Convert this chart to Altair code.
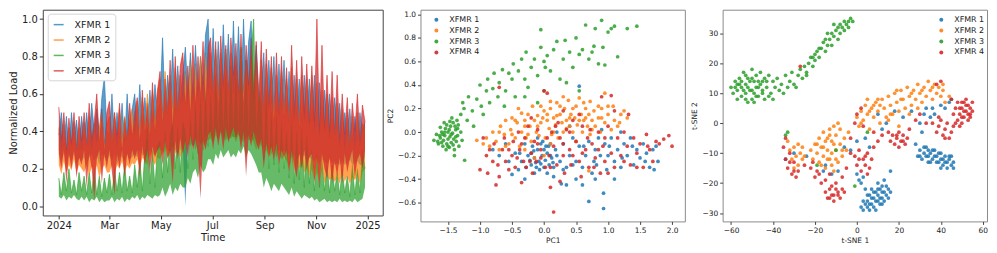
import altair as alt
import pandas as pd

names = ["XFMR 1", "XFMR 2", "XFMR 3", "XFMR 4"]
palette = ["#1f77b4", "#ff7f0e", "#2ca02c", "#d62728"]

# ---- Panel 1: normalized load, high / low envelope every 3 days from 2024-01-01 ----
start_date = "2024-01-01"
step_days = 3
hi_xfmr1 = [0.38,0.5,0.32,0.48,0.3,0.5,0.35,0.46,0.3,0.48,
            0.35,0.5,0.33,0.55,0.4,0.52,0.38,0.58,0.69,0.4,
            0.38,0.6,0.35,0.5,0.36,0.55,0.34,0.6,0.38,0.52,
            0.6,0.4,0.65,0.42,0.58,0.45,0.62,0.45,0.65,0.5,
            0.55,0.9,0.5,0.7,0.55,0.84,0.5,0.75,0.55,0.7,
            0.85,0.6,0.82,0.6,0.86,0.62,0.8,0.65,0.92,1.0,
            0.62,0.95,0.6,0.88,0.62,0.97,0.65,0.92,0.6,0.99,
            0.62,0.96,0.6,1.0,0.62,0.88,0.99,0.6,0.86,0.62,
            0.6,0.82,0.5,0.78,0.55,0.8,0.5,0.76,0.52,0.78,
            0.5,0.72,0.45,0.7,0.48,0.68,0.45,0.7,0.45,0.68,
            0.45,0.7,0.42,0.66,0.45,0.62,0.42,0.6,0.4,0.58,
            0.4,0.55,0.36,0.5,0.38,0.52,0.35,0.48,0.36,0.5,
            0.4,0.45]
lo_xfmr1 = [0.3,0.24,0.28,0.22,0.27,0.24,0.28,0.22,0.26,0.24,
            0.26,0.22,0.26,0.28,0.24,0.27,0.22,0.28,0.26,0.24,
            0.27,0.24,0.28,0.22,0.27,0.26,0.24,0.28,0.25,0.26,
            0.28,0.26,0.3,0.27,0.28,0.26,0.3,0.28,0.27,0.3,
            0.3,0.29,0.32,0.3,0.29,0.32,0.3,0.28,0.3,0.32,
            0.0,0.32,0.35,0.32,0.34,0.36,0.33,0.35,0.38,0.35,
            0.38,0.36,0.4,0.37,0.42,0.38,0.36,0.4,0.38,0.37,
            0.37,0.4,0.35,0.38,0.36,0.4,0.37,0.35,0.38,0.36,
            0.34,0.31,0.32,0.3,0.31,0.32,0.28,0.3,0.29,0.3,
            0.28,0.28,0.26,0.27,0.25,0.28,0.26,0.27,0.24,0.26,
            0.25,0.24,0.26,0.22,0.25,0.24,0.22,0.25,0.23,0.22,
            0.23,0.22,0.24,0.22,0.23,0.25,0.22,0.23,0.24,0.22,
            0.22,0.26]
hi_xfmr2 = [0.42,0.3,0.44,0.28,0.42,0.32,0.45,0.3,0.42,0.3,
            0.45,0.32,0.48,0.3,0.44,0.34,0.42,0.5,0.32,0.44,
            0.48,0.34,0.5,0.32,0.52,0.35,0.48,0.36,0.46,0.52,
            0.38,0.56,0.4,0.58,0.42,0.6,0.4,0.62,0.45,0.6,
            0.68,0.48,0.72,0.5,0.7,0.52,0.74,0.5,0.7,0.55,
            0.72,0.55,0.78,0.55,0.76,0.58,0.8,0.56,0.82,0.6,
            0.82,0.6,0.84,0.58,0.82,0.62,0.84,0.6,0.82,0.6,
            0.8,0.58,0.84,0.6,0.78,0.62,0.8,0.56,0.78,0.55,
            0.78,0.5,0.76,0.52,0.74,0.5,0.7,0.48,0.72,0.5,
            0.68,0.45,0.74,0.46,0.68,0.44,0.7,0.45,0.68,0.42,
            0.7,0.4,0.66,0.38,0.62,0.4,0.6,0.36,0.58,0.38,
            0.55,0.32,0.52,0.3,0.5,0.32,0.48,0.3,0.5,0.32,
            0.44,0.42]
lo_xfmr2 = [0.22,0.17,0.24,0.18,0.22,0.19,0.25,0.18,0.22,0.2,
            0.18,0.22,0.16,0.21,0.18,0.22,0.15,0.2,0.22,0.18,
            0.18,0.22,0.17,0.22,0.2,0.24,0.18,0.22,0.2,0.23,
            0.22,0.25,0.2,0.26,0.24,0.22,0.28,0.24,0.22,0.26,
            0.25,0.28,0.3,0.26,0.28,0.32,0.28,0.3,0.26,0.3,
            0.3,0.34,0.32,0.36,0.3,0.34,0.36,0.32,0.34,0.36,
            0.36,0.34,0.38,0.35,0.4,0.36,0.35,0.38,0.36,0.38,
            0.34,0.38,0.36,0.34,0.38,0.35,0.36,0.34,0.3,0.34,
            0.32,0.28,0.3,0.26,0.28,0.3,0.26,0.28,0.25,0.26,
            0.24,0.2,0.26,0.18,0.24,0.2,0.22,0.18,0.2,0.16,
            0.2,0.14,0.18,0.13,0.2,0.12,0.16,0.14,0.15,0.13,
            0.15,0.12,0.18,0.13,0.16,0.12,0.15,0.14,0.16,0.12,
            0.18,0.2]
hi_xfmr3 = [0.15,0.06,0.18,0.08,0.2,0.07,0.14,0.06,0.18,0.08,
            0.16,0.06,0.18,0.07,0.2,0.06,0.16,0.05,0.15,0.07,
            0.17,0.06,0.2,0.08,0.18,0.07,0.22,0.08,0.16,0.07,
            0.22,0.1,0.25,0.08,0.28,0.42,0.12,0.3,0.1,0.32,
            0.35,0.15,0.4,0.18,0.38,0.45,0.2,0.42,0.18,0.45,
            0.4,0.2,0.48,0.25,0.55,0.28,0.58,0.3,0.62,0.32,
            0.6,0.35,0.7,0.38,0.72,0.4,0.7,0.36,0.75,0.4,
            0.75,0.38,0.85,0.4,0.78,0.38,0.8,1.0,0.4,0.6,
            0.55,0.25,0.62,0.2,0.5,0.22,0.48,0.18,0.45,0.2,
            0.4,0.15,0.45,0.12,0.4,0.14,0.42,0.1,0.38,0.12,
            0.3,0.08,0.28,0.1,0.25,0.08,0.22,0.07,0.22,0.08,
            0.18,0.06,0.2,0.07,0.16,0.05,0.22,0.06,0.2,0.07,
            0.3,0.2]
lo_xfmr3 = [0.05,0.04,0.06,0.03,0.05,0.04,0.06,0.04,0.03,0.05,
            0.03,0.05,0.02,0.04,0.03,0.05,0.02,0.04,0.02,0.03,
            0.03,0.05,0.02,0.04,0.03,0.05,0.02,0.04,0.03,0.05,
            0.04,0.06,0.03,0.05,0.04,0.06,0.05,0.04,0.06,0.05,
            0.06,0.1,0.05,0.08,0.12,0.06,0.1,0.08,0.12,0.1,
            0.1,0.15,0.12,0.18,0.2,0.15,0.22,0.18,0.2,0.25,
            0.25,0.22,0.28,0.25,0.3,0.26,0.28,0.3,0.26,0.28,
            0.26,0.3,0.28,0.32,0.26,0.3,0.28,0.25,0.22,0.18,
            0.18,0.1,0.15,0.12,0.08,0.12,0.1,0.08,0.12,0.1,
            0.08,0.06,0.1,0.05,0.08,0.06,0.04,0.06,0.05,0.04,
            0.05,0.03,0.04,0.02,0.03,0.04,0.02,0.03,0.02,0.03,
            0.02,0.04,0.02,0.03,0.02,0.03,0.02,0.04,0.02,0.03,
            0.04,0.1]
hi_xfmr4 = [0.53,0.36,0.5,0.3,0.47,0.34,0.5,0.3,0.48,0.35,
            0.5,0.32,0.55,0.36,0.45,0.6,0.35,0.52,0.3,0.5,
            0.56,0.34,0.5,0.38,0.55,0.3,0.47,0.36,0.55,0.38,
            0.5,0.58,0.35,0.62,0.4,0.55,0.38,0.66,0.4,0.62,
            0.72,0.45,0.68,0.5,0.78,0.42,0.8,0.5,0.75,0.82,
            0.55,0.75,0.5,0.86,0.55,0.8,0.6,0.88,0.55,0.85,
            0.9,0.6,0.88,0.55,0.91,0.65,0.86,0.6,0.9,0.7,
            0.87,0.6,0.92,0.55,0.86,0.65,0.9,0.6,0.88,0.55,
            0.88,0.5,0.84,0.55,0.8,0.45,0.82,0.5,0.8,0.48,
            0.74,0.45,0.86,0.5,0.78,0.42,0.8,0.5,0.76,0.45,
            0.75,0.45,1.0,0.4,0.86,0.42,0.7,0.4,0.72,0.38,
            0.7,0.35,0.6,0.38,0.58,0.32,0.55,0.4,0.6,0.35,
            0.54,0.45]
lo_xfmr4 = [0.28,0.2,0.3,0.12,0.28,0.2,0.3,0.15,0.26,0.22,
            0.3,0.1,0.28,0.2,0.03,0.25,0.3,0.12,0.28,0.2,
            0.3,0.18,0.06,0.28,0.2,0.3,0.15,0.28,0.22,0.3,
            0.25,0.3,0.15,0.32,0.22,0.3,0.18,0.32,0.26,0.3,
            0.32,0.22,0.35,0.25,0.3,0.12,0.35,0.25,0.36,0.28,
            0.35,0.26,0.38,0.3,0.36,0.28,0.04,0.35,0.3,0.38,
            0.4,0.3,0.42,0.32,0.4,0.3,0.42,0.34,0.38,0.42,
            0.36,0.4,0.3,0.4,0.16,0.38,0.32,0.4,0.34,0.3,
            0.36,0.2,0.34,0.26,0.32,0.24,0.34,0.22,0.3,0.26,
            0.3,0.18,0.3,0.22,0.15,0.28,0.2,0.3,0.2,0.26,
            0.28,0.12,0.26,0.1,0.28,0.2,0.15,0.26,0.12,0.24,
            0.16,0.26,0.12,0.28,0.18,0.25,0.3,0.15,0.25,0.28,
            0.2,0.3]

# ---- Panel 2: PCA scores (PC1, PC2) ----
pca_xfmr1 = [(-0.25,-0.2),(-0.2,-0.28),(-0.18,-0.12),(-0.15,-0.22),(-0.12,-0.3),(-0.1,-0.15),(-0.08,-0.25),
             (-0.05,-0.1),(-0.03,-0.2),(0.0,-0.3),(0.0,-0.15),(0.02,-0.24),(0.05,-0.18),(0.08,-0.28),(0.1,-0.1),
             (0.12,-0.22),(0.15,-0.3),(0.18,-0.15),(-0.1,-0.05),(0.05,-0.35),(-0.3,-0.1),(-0.35,-0.25),(-0.4,-0.32),
             (-0.45,-0.18),(-0.5,-0.36),(-0.55,-0.25),(-0.6,-0.1),(-0.3,-0.4),(-0.7,-0.2),(-0.8,-0.15),(0.25,-0.25),
             (0.3,-0.1),(0.27,-0.44),(0.35,-0.3),(0.4,-0.2),(0.45,-0.05),(0.5,-0.4),(0.5,-0.25),(0.55,0.39),
             (0.55,-0.12),(0.6,-0.3),(0.65,-0.2),(0.7,-0.59),(0.7,-0.08),(0.75,-0.35),(0.8,-0.15),(0.82,-0.28),
             (0.85,-0.05),(0.88,-0.2),(0.93,-0.52),(0.93,-0.65),(0.95,-0.1),(0.98,-0.32),(1.0,-0.2),(1.05,-0.05),
             (1.1,-0.25),(1.15,-0.15),(1.2,-0.3),(1.25,-0.1),(1.3,-0.2),(1.35,-0.05),(1.4,-0.28),(1.45,-0.15),
             (1.5,-0.22),(1.55,-0.1),(1.6,-0.18),(1.65,-0.3),(1.7,-0.15),(1.75,-0.12),(1.78,-0.25),(1.72,-0.32),
             (0.35,-0.45),(0.6,-0.45),(0.8,-0.4),(1.1,-0.4),(0.2,0.0),(0.4,0.05),(0.9,0.02),(1.2,0.0),(-0.15,-0.35),
             (-0.05,-0.27),(0.1,-0.2),(-0.2,-0.18),(0.03,-0.12),(-0.13,-0.26),
             (-0.22,-0.24),(-0.16,-0.16),(-0.07,-0.32),(0.07,-0.12),(0.14,-0.26),(-0.02,-0.08),(0.2,-0.2),
             (-0.28,-0.3),(0.3,-0.32),(0.45,-0.28),(0.62,-0.12),(0.78,-0.25),(1.02,-0.12),(1.22,-0.22),
             (1.38,-0.12),(1.58,-0.25),(0.15,-0.38),(-0.38,-0.18)]
pca_xfmr2 = [(-1.05,-0.07),(-0.95,-0.1),(-0.9,-0.05),(-0.85,-0.12),(-0.8,0.0),(-0.75,-0.08),(-0.7,-0.15),
             (-0.68,0.05),(-0.62,-0.02),(-0.6,0.1),(-0.55,-0.1),(-0.52,0.02),(-0.5,0.12),(-0.45,-0.05),(-0.42,0.08),
             (-0.4,0.2),(-0.38,-0.12),(-0.35,0.0),(-0.3,0.1),(-0.28,-0.05),(-0.25,0.15),(-0.22,0.05),(-0.2,-0.08),
             (-0.18,0.22),(-0.15,0.1),(-0.12,0.0),(-0.1,0.14),(-0.08,-0.03),(-0.05,0.08),(0.0,0.18),(0.02,-0.05),
             (0.05,0.1),(0.08,0.03),(0.1,0.2),(0.12,-0.02),(0.15,0.12),(0.18,0.06),(0.2,0.25),(0.22,-0.05),
             (0.25,0.15),(0.28,0.08),(0.3,0.0),(0.32,0.2),(0.35,0.1),(0.38,0.27),(0.4,0.05),(0.42,0.15),(0.45,0.0),
             (0.48,0.12),(0.5,0.22),(0.52,0.06),(0.55,0.29),(0.58,0.15),(0.6,0.0),(0.62,0.1),(0.65,0.2),(0.68,0.05),
             (0.7,0.15),(0.72,-0.02),(0.75,0.1),(0.78,0.18),(0.8,0.05),(0.85,0.12),(0.88,0.0),(0.9,0.2),(0.95,0.33),
             (0.95,0.08),(1.0,0.15),(1.05,0.02),(1.08,0.22),(1.1,0.1),(1.15,0.05),(1.2,0.15),(1.25,0.18),(1.3,0.12),
             (-0.6,-0.12),(-0.3,-0.15),(0.1,-0.1),(0.5,-0.08),(0.7,-0.33),(0.0,-0.2),(-0.15,-0.22),(0.3,0.3),
             (0.1,0.26),(-0.05,0.22),(-0.35,0.16),(0.2,0.14),(0.45,0.2),(0.65,0.12),(0.85,0.22),(-0.5,-0.02),
             (-0.7,0.0),(-0.45,0.1),(-0.25,-0.02),(-0.1,0.05),(0.05,0.15),(0.15,0.0),(0.25,0.22),(0.35,0.03),
             (0.55,0.1),(0.75,0.02),(0.9,0.12),(1.0,0.22),(0.62,0.25),(0.4,0.12),(-0.02,0.12),(-0.3,0.05),
             (0.72,0.26),(1.18,0.08)]
pca_xfmr3 = [(-1.72,-0.07),(-1.68,-0.02),(-1.65,-0.1),(-1.62,-0.05),(-1.6,0.0),(-1.58,-0.12),(-1.57,-0.07),
             (-1.55,-0.03),(-1.54,0.03),(-1.52,-0.1),(-1.5,-0.06),(-1.5,0.0),(-1.48,-0.13),(-1.47,-0.04),
             (-1.46,0.05),(-1.45,-0.09),(-1.43,-0.01),(-1.42,0.08),(-1.41,-0.06),(-1.4,-0.15),(-1.38,0.02),
             (-1.37,-0.08),(-1.36,0.1),(-1.35,-0.03),(-1.34,0.06),(-1.33,-0.12),(-1.62,0.04),(-1.56,0.08),
             (-1.53,-0.15),(-1.44,0.12),(-1.39,0.05),(-1.48,0.02),(-1.58,-0.02),(-1.66,-0.08),(-1.4,-0.2),
             (-1.6,-0.09),(-1.52,0.06),(-1.45,-0.02),(-1.42,-0.11),(-1.55,-0.0),(-1.5,-0.12),(-1.38,-0.04),
             (-1.47,0.09),(-1.35,0.03),(-1.63,-0.03),
             (-1.24,-0.24),(-1.28,-0.07),(-1.3,0.0),(-1.3,0.15),(-1.27,0.25),(-1.25,0.2),(-1.2,0.1),(-1.18,0.3),
             (-1.12,0.18),(-1.1,0.05),(-1.05,0.28),(-1.0,0.4),(-0.98,0.22),(-0.95,0.15),(-0.9,0.35),(-0.88,0.45),
             (-0.85,0.25),(-0.8,0.37),(-0.78,0.5),(-0.72,0.3),(-0.7,0.42),(-0.65,0.53),(-0.62,0.22),(-0.6,0.35),
             (-0.55,0.5),(-0.5,0.45),(-0.48,0.58),(-0.45,0.3),(-0.4,0.52),(-0.35,0.62),(-0.3,0.45),(-0.28,0.68),
             (-0.25,0.38),(-0.2,0.55),(-0.15,0.62),(-0.1,0.48),(-0.05,0.72),(0.0,0.6),(0.02,0.55),(0.05,0.65),
             (-0.05,0.87),(0.1,0.52),(0.15,0.7),(0.2,0.77),(0.25,0.45),(0.3,0.62),(0.33,0.78),(0.4,0.68),
             (0.45,0.55),(0.5,0.8),(0.55,0.66),(0.6,0.7),(0.65,0.91),(0.7,0.62),(0.75,0.68),(0.78,0.73),
             (0.8,0.88),(0.85,0.58),(0.9,0.95),(0.92,0.72),(0.95,0.57),(1.0,0.85),(1.05,0.88),(1.1,0.9),
             (1.15,0.64),(1.3,0.88),(1.45,0.9),(0.55,0.35),(0.35,0.42),(-0.1,0.25),(-0.3,0.3),(0.0,0.35)]
pca_xfmr4 = [(-1.0,-0.32),(-0.95,-0.05),(-0.9,-0.2),(-0.88,-0.35),(-0.8,-0.25),(-0.78,-0.1),(-0.75,-0.45),
             (-0.72,-0.28),(-0.7,-0.38),(-0.7,0.38),(-0.65,-0.15),(-0.62,-0.05),(-0.6,-0.25),(-0.55,-0.32),
             (-0.5,-0.2),(-0.48,-0.08),(-0.45,-0.3),(-0.4,0.0),(-0.38,-0.15),(-0.35,-0.43),(-0.32,-0.25),
             (-0.3,-0.05),(-0.28,-0.3),(-0.25,0.05),(-0.2,-0.18),(-0.18,-0.35),(-0.15,-0.08),(-0.12,-0.25),
             (-0.1,0.02),(-0.05,-0.15),(0.0,0.35),(0.02,-0.3),(0.05,0.33),(0.05,-0.05),(0.08,-0.2),(0.1,-0.47),
             (0.12,0.0),(0.15,-0.68),(0.15,-0.12),(0.2,-0.28),(0.22,0.08),(0.25,-0.05),(0.3,-0.2),(0.32,-0.35),
             (0.35,0.02),(0.4,-0.15),(0.42,-0.28),(0.45,0.1),(0.5,-0.08),(0.55,-0.25),(0.58,-0.38),(0.6,0.05),
             (0.65,-0.15),(0.7,-0.3),(0.72,0.02),(0.75,-0.1),(0.8,-0.22),(0.85,0.0),(0.88,-0.35),(0.9,0.3),
             (0.92,-0.12),(0.95,-0.25),(1.0,0.05),(1.05,0.31),(1.05,-0.18),(1.1,-0.3),(1.15,-0.05),(1.2,-0.2),
             (1.25,0.0),(1.3,-0.12),(1.32,0.15),(1.35,-0.28),(1.4,-0.05),(1.45,-0.18),(1.5,-0.1),(1.55,-0.3),
             (1.6,-0.02),(1.65,-0.15),(1.7,-0.25),(1.75,-0.08),(1.8,-0.1),(1.87,-0.06),(1.95,-0.03),(2.0,-0.12),
             (-0.2,0.12),(0.3,0.18),(0.55,0.15),(1.1,0.18),(0.25,-0.42),(-0.1,-0.1),(0.6,-0.18),(0.95,-0.05),
             (-0.85,-0.15),(-0.55,-0.15),(-0.35,-0.1),(-0.22,-0.25),(-0.05,-0.22),(0.1,-0.3),(0.3,-0.1),
             (0.45,-0.2),(0.68,-0.05),(0.85,-0.15),(1.0,-0.35),(1.25,-0.25),(1.45,-0.3),(1.62,-0.12),(0.4,0.0),
             (0.18,0.05),(-0.42,-0.22),(0.78,-0.3)]

# ---- Panel 3: t-SNE embedding ----
tsne_xfmr1 = [(2,-28),(3,-29),(4,-27),(5,-28),(6,-29),(5,-26),(6,-24),(7,-27),(8,-25),(8,-28),(9,-23),(9,-26),
              (10,-24),(11,-27),(11,-22),(12,-25),(12,-21),(13,-23),(14,-24),(14,-21),(15,-22),(16,-23),(10,-20),
              (7,-22),(3,-18),(2,-20),(0,-17),(1,-19),(16,-16),(13,-19),(4,-22),(7,-25),(10,-26),(12,-23),
              (3,-26),(6,-27),(8,-23),(9,-29),(11,-25),(13,-26),(15,-25),(10,-22),(5,-24),(12,-27),
              (28,-7),(29,-11),(30,-9),(31,-12),(32,-10),(33,-8),(34,-11),(34,-13),(35,-10),(36,-12),(37,-9),
              (38,-11),(39,-13),(40,-10),(41,-12),(42,-11),(43,-13),(44,-12),(45,-14),(46,-13),(45,-11),(43,-15),
              (46,-15),(36,-9),(38,-13),(33,-11),(40,-12),(30,-11),(32,-8),(35,-13),(37,-11),(39,-10),(41,-14),
              (44,-11),(42,-13),(34,-9),(40,-15),
              (-34,-12),(-30,-10),(-24,-11),(-16,-16),(-15,-14),(-12,-17),(-9,-16),(-6,-8),(-3,-9),(0,-6),
              (4,-5),(6,-8),(10,3),(12,-2),(14,0),(18,4),(22,2),(26,4),(30,0),(32,3),(33,5),(35,2),(36,5),
              (37,3),(40,6),(42,5),(44,7),(45,8),(31,-3)]
tsne_xfmr2 = [(-33,-6),(-32,-9),(-31,-12),(-30,-8),(-29,-11),(-28,-7),(-28,-14),(-27,-10),(-26,-12),(-26,-8),
              (-25,-11),(-30,-15),(-22,-9),(-21,-12),(-20,-7),(-19,-10),(-18,-5),(-18,-13),(-17,-8),(-16,-3),
              (-16,-11),(-15,-6),(-15,-15),(-14,-9),(-13,-2),(-13,-12),(-12,-6),(-11,-16),(-11,-1),(-10,-9),
              (-10,-4),(-9,-13),(-8,-7),(-8,-2),(-7,-11),(-6,-5),(-5,-9),(-4,-3),(-14,-5),(-12,-10),(-17,-14),
              (-9,0),(-12,-14),(-14,-12),(-10,-12),(-7,-9),(-19,-7),(-16,-8),(-11,-7),(-13,-4),
              (0,2),(1,-1),(2,4),(3,1),(4,6),(5,3),(6,-2),(7,5),(8,2),(9,7),(10,4),(11,0),(12,8),(13,5),
              (14,2),(15,9),(16,6),(17,3),(18,10),(19,7),(20,4),(21,11),(22,8),(23,5),(24,12),(25,9),(26,6),
              (27,11),(28,8),(29,13),(30,10),(31,7),(32,12),(33,9),(34,14),(35,11),(36,8),(37,13),(38,10),
              (39,12),(40,9),(41,11),(42,7),(44,9),(15,1),(10,8),(20,-1),(25,3),(5,8),(2,0),(6,4),(11,6),
              (16,3),(21,8),(26,10),(31,11),(36,12),(41,13),(8,6),(19,11),(29,5)]
tsne_xfmr3 = [(-60,12),(-59,10),(-58,14),(-57,11),(-57,8),(-56,15),(-55,12),(-55,9),(-54,17),(-53,13),
              (-53,10),(-52,7),(-52,15),(-51,11),(-50,18),(-50,8),(-49,14),(-49,10),(-48,12),(-48,16),(-47,9),
              (-46,13),(-46,17),(-45,11),(-44,15),(-44,8),(-43,12),(-42,16),(-41,10),(-40,14),(-56,13),(-54,11),
              (-51,14),(-47,12),(-58,12),(-53,16),(-49,7),(-45,14),(-42,9),(-55,14),(-52,12),(-50,15),(-47,14),
              (-45,10),(-50,11),(-53,8),(-57,13),(-43,14),(-48,9),
              (-39,12),(-38,15),(-37,11),(-36,13),
              (-34,16),(-33,12),(-32,14),(-31,17),(-30,13),(-28,16),(-27,18),(-26,15),(-25,19),(-24,17),(-23,20),
              (-22,22),(-21,19),(-20,21),(-19,24),(-18,22),(-17,25),(-16,27),(-15,24),(-14,26),(-13,28),(-12,26),
              (-11,29),(-10,31),(-9,28),(-8,30),(-7,32),(-6,31),(-5,33),(-4,34),(-3,35),(-2,34),(-6,34),(-9,32),
              (-12,30),(-15,28),(-18,25),(-21,22),(-24,16),(-29,12),(-35,10),(-40,8),(-11,33),(-8,33),(-4,32),
              (-14,30),(-20,23),(-33,-3),(-34,-4),(-19,-14),(-10,-9),(-1,-21),(5,-3)]
tsne_xfmr4 = [(46,3),(47,5),(48,1),(48,7),(49,3),(50,5),(50,0),(51,7),(51,2),(52,4),(53,6),(53,1),(54,5),
              (54,3),(55,7),(55,4),(52,8),(49,-1),(47,0),(50,2),(51,4),(53,3),(52,6),(49,5),(54,2),(50,7),
              (38,-3),(39,-1),(40,1),(41,-4),(42,-2),(43,0),
              (44,-5),(45,-3),(46,-1),(39,2),(36,0),(42,-5),(15,-3),(16,-6),(17,-4),(18,-7),(19,-5),(20,-3),
              (21,-6),(22,-4),(23,-7),(24,-5),(25,-2),(20,-8),(19,-4),(22,-6),(0,3),(2,5),(-1,0),(3,-1),(8,-3),
              (10,-6),(12,-4),(28,1),(30,3),(33,0),(45,8),(38,13),(40,14),(-1,-11),(0,-14),(1,-9),(2,-16),
              (3,-12),(4,-14),(5,-10),(6,-15),(7,-12),(8,-8),(5,-17),(-3,-10),(1,-12),(4,-11),
              (-15,-23),(-14,-25),(-13,-22),(-12,-24),(-11,-26),(-10,-22),(-9,-24),(-8,-25),(-7,-22),(-6,-23),
              (-10,-20),(-12,-21),(-11,-24),(-9,-23),(-13,-25),(-35,-8),(-34,-12),(-33,-15),
              (-32,-10),(-31,-17),(-30,-13),(-29,-18),(-34,-5),(-28,-16),(-32,-13),(-30,-16),(-22,-15),
              (-20,-18),(-18,-17),(-17,-20),(-15,-19),(-13,-17),(-21,-13),(-5,-15),(-3,-5),(-7,-18),(-27,19),
              (-25,-14),(-19,-16)]

hi_values = [hi_xfmr1, hi_xfmr2, hi_xfmr3, hi_xfmr4]
lo_values = [lo_xfmr1, lo_xfmr2, lo_xfmr3, lo_xfmr4]
pca_points = [pca_xfmr1, pca_xfmr2, pca_xfmr3, pca_xfmr4]
tsne_points = [tsne_xfmr1, tsne_xfmr2, tsne_xfmr3, tsne_xfmr4]

dates = pd.date_range(start_date, periods=len(hi_xfmr1), freq=f"{step_days}D").strftime("%Y-%m-%d")
band_df = pd.concat([pd.DataFrame({"date": dates, "hi": h, "lo": l, "xfmr": n})
                     for n, h, l in zip(names, hi_values, lo_values)], ignore_index=True)
pca_df = pd.concat([pd.DataFrame(p, columns=["x", "y"]).assign(xfmr=n) for n, p in zip(names, pca_points)],
                   ignore_index=True)
tsne_df = pd.concat([pd.DataFrame(p, columns=["x", "y"]).assign(xfmr=n) for n, p in zip(names, tsne_points)],
                    ignore_index=True)

FONT = "DejaVu Sans"
TXT = "#222222"
color_scale = alt.Scale(domain=names, range=palette)

def dt(y, m, d):
    return alt.DateTime(year=y, month=m, date=d, utc=True)

time_ticks = [dt(2024, 1, 1), dt(2024, 3, 1), dt(2024, 5, 1), dt(2024, 7, 1), dt(2024, 9, 1),
              dt(2024, 11, 1), dt(2025, 1, 1)]

x_time = alt.X(
    "date:T",
    scale=alt.Scale(type="utc", domain=[dt(2023, 12, 13), dt(2025, 1, 19)]),
    axis=alt.Axis(values=time_ticks,
                  labelExpr="utcFormat(datum.value, '%m') == '01' ? utcFormat(datum.value, '%Y') : utcFormat(datum.value, '%b')",
                  title="Time", labelFontSize=10, titleFontSize=10, tickSize=3.5,
                  labelPadding=2, titlePadding=2, labelFlush=False),
)
load_scale = alt.Scale(domain=[-0.05, 1.05], nice=False, zero=False)
load_axis = alt.Axis(values=[0, 0.2, 0.4, 0.6, 0.8, 1.0], format=".1f", title="Normalized Load",
                     labelFontSize=10, titleFontSize=10, tickSize=3.5, labelPadding=2, titlePadding=3)
leg1 = alt.Legend(title=None, orient="none", legendX=5, legendY=4,
                  symbolStrokeWidth=1.5, labelFontSize=9.5, labelFont=FONT, labelColor=TXT,
                  rowPadding=4.5, labelOffset=10, padding=5, strokeColor="#d5d5d5", fillColor="white",
                  cornerRadius=3)

edge = alt.Chart(band_df).mark_line(strokeWidth=0.8, opacity=0.75).encode(
    x=x_time, y=alt.Y("hi:Q", scale=load_scale, axis=load_axis),
    color=alt.Color("xfmr:N", scale=color_scale, legend=leg1),
)
band = alt.Chart(band_df).mark_area(opacity=0.72).encode(
    x=x_time, y=alt.Y("hi:Q", scale=load_scale, axis=load_axis, stack=None), y2="lo:Q",
    color=alt.Color("xfmr:N", scale=color_scale, legend=None),
)
p1 = alt.layer(edge, band).resolve_legend(color="independent").properties(width=342, height=207)

def scatter(df, xdom, ydom, xticks, yticks, fmt, xtitle, ytitle, legx, legy, w, h):
    small = dict(labelFontSize=7.5, titleFontSize=7.5, tickSize=3, labelPadding=2, titlePadding=3,
                 tickColor="#444444")
    leg = alt.Legend(title=None, orient="none", legendX=legx, legendY=legy, symbolType="circle",
                     symbolSize=16, symbolOpacity=0.9, labelFontSize=8, labelFont=FONT, labelColor=TXT,
                     rowPadding=3, labelOffset=9, padding=0)
    return alt.Chart(df).mark_circle(size=14, opacity=0.85).encode(
        x=alt.X("x:Q", scale=alt.Scale(domain=xdom, nice=False, zero=False),
                axis=alt.Axis(values=xticks, format=fmt, title=xtitle, **small)),
        y=alt.Y("y:Q", scale=alt.Scale(domain=ydom, nice=False, zero=False),
                axis=alt.Axis(values=yticks, format=fmt, title=ytitle, **small)),
        color=alt.Color("xfmr:N", scale=color_scale, legend=leg),
    ).properties(width=w, height=h, view=alt.ViewBackground(stroke="#8a8a8a", strokeWidth=1))

p2 = scatter(pca_df, [-1.93, 2.2], [-0.76, 1.04],
             [-1.5, -1.0, -0.5, 0.0, 0.5, 1.0, 1.5, 2.0],
             [-0.6, -0.4, -0.2, 0.0, 0.2, 0.4, 0.6, 0.8, 1.0], ".1f", "PC1", "PC2", 12, 6, 266, 213)
p3 = scatter(tsne_df, [-64, 62], [-32.8, 37.9],
             [-60, -40, -20, 0, 20, 40, 60], [-30, -20, -10, 0, 10, 20, 30], "d",
             "t-SNE 1", "t-SNE 2", 216, 6, 266, 213)

chart = alt.hconcat(p1, p2, p3, spacing=38, bounds="flush").resolve_legend(
    color="independent"
).properties(padding=0).configure(
    font=FONT
).configure_view(stroke="#444444", strokeWidth=1).configure_axis(
    grid=False, domain=False, labelColor=TXT, titleColor=TXT, tickColor="#333333",
    labelFont=FONT, titleFont=FONT, titleFontWeight="normal"
)

chart.save("out.html", embed_options={"renderer": "svg", "actions": False})
